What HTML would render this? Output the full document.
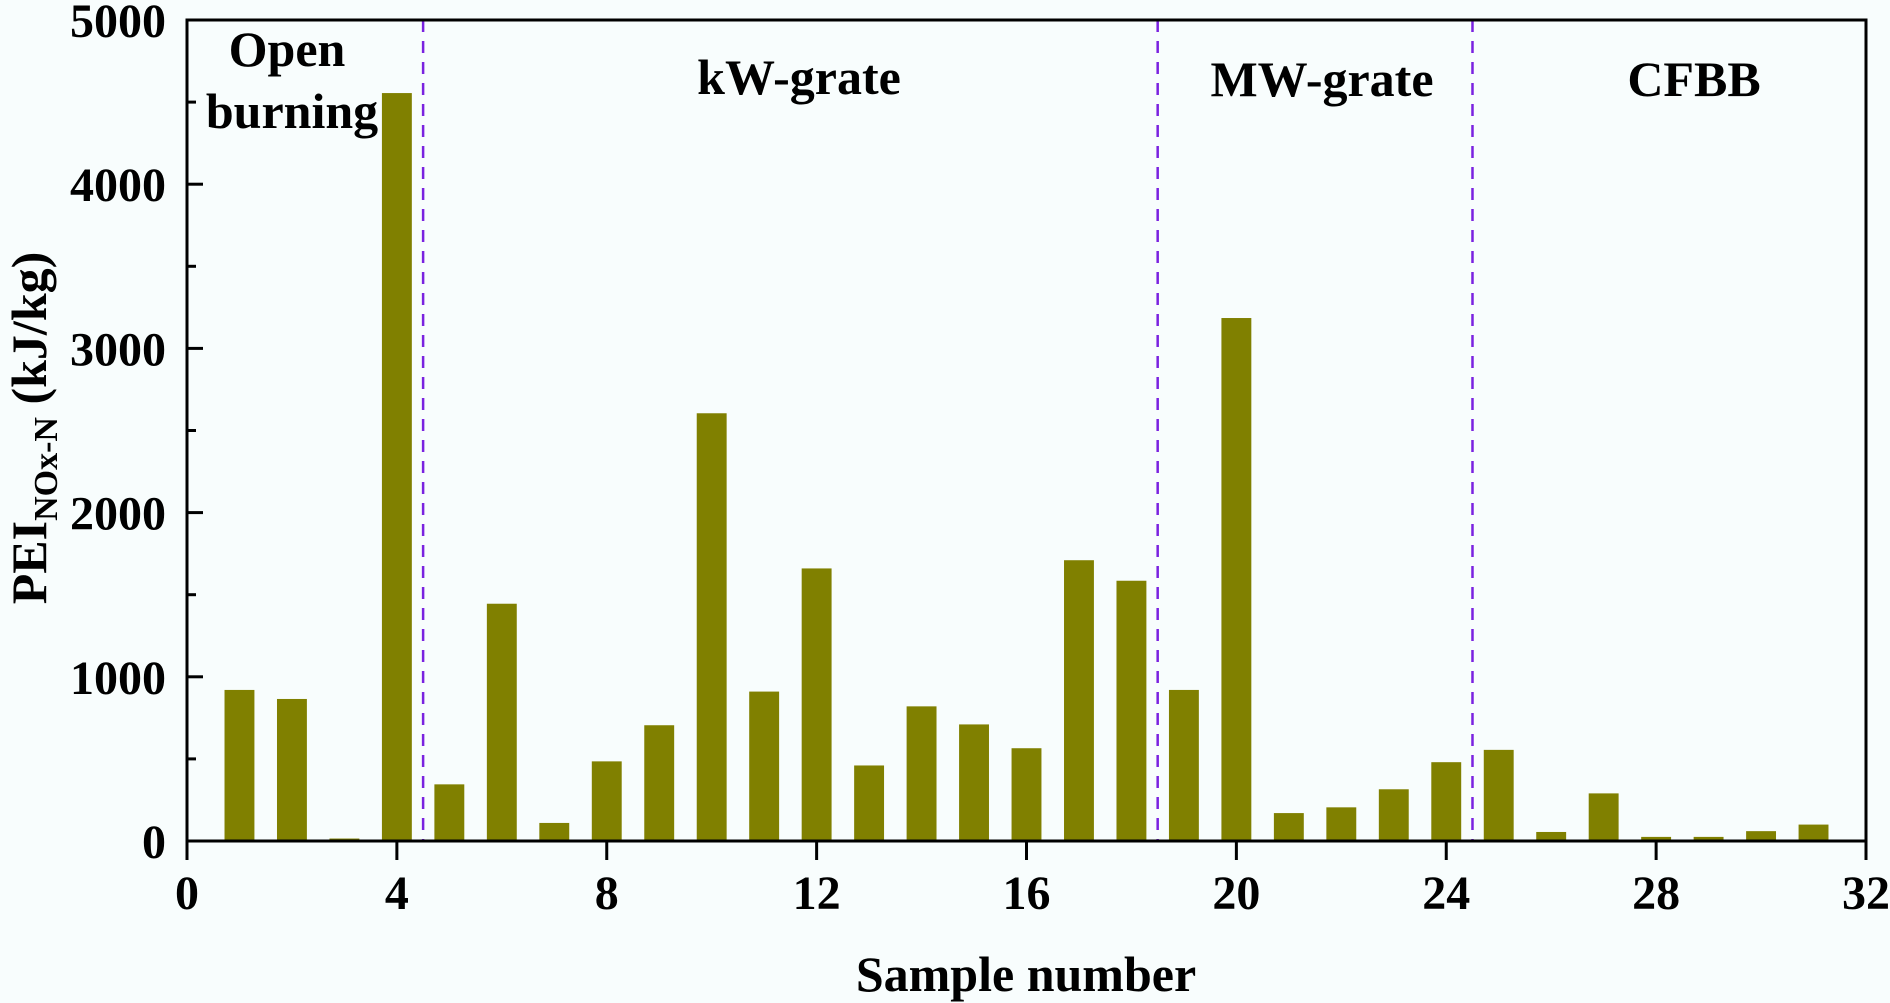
<!DOCTYPE html>
<html><head><meta charset="utf-8"><style>
html,body{margin:0;padding:0;background:#f8fdfd;}
svg{display:block;font-family:"Liberation Serif",serif;font-weight:bold;}
</style></head><body>
<svg id="chart" width="1890" height="1003" viewBox="0 0 1890 1003" xmlns="http://www.w3.org/2000/svg">
<rect width="1890" height="1003" fill="#f8fdfd"/>
<g id="bars"></g>
<g id="dividers"></g>
<g id="axes"></g>
<g id="labels" font-size="50" text-anchor="middle">
<text x="287" y="66">Open</text>
<text x="292" y="128">burning</text>
<text x="799" y="94">kW-grate</text>
<text x="1322" y="96">MW-grate</text>
<text x="1694" y="96">CFBB</text>
</g>
<text x="1026" y="991" font-size="50" text-anchor="middle">Sample number</text>
<text transform="translate(46,428) rotate(-90)" font-size="50" text-anchor="middle">PEI<tspan font-size="34" dy="11">NOx-N</tspan><tspan dy="-11"> (kJ/kg)</tspan></text>
</svg>
<script>
const samples = [1,2,3,4,5,6,7,8,9,10,11,12,13,14,15,16,17,18,19,20,21,22,23,24,25,26,27,28,29,30,31];
const values = [920,865,15,4555,345,1445,110,485,705,2605,910,1660,460,820,710,565,1710,1585,920,3185,170,205,315,480,555,55,290,25,25,60,100];
const xTicks = [0,4,8,12,16,20,24,28,32];
const yTicks = [0,1000,2000,3000,4000,5000];
const dividers = [4.5,18.5,24.5];

const L=187,R=1866,T=20,B=841;
const xs=v=>L+(v-0)/(32-0)*(R-L);
const ys=v=>B-(v/5000)*(B-T);
const NS="http://www.w3.org/2000/svg";
function mk(tag,attrs,parent){const e=document.createElementNS(NS,tag);for(const k in attrs)e.setAttribute(k,attrs[k]);parent.appendChild(e);return e;}
const bars=document.getElementById('bars'),axes=document.getElementById('axes'),divs=document.getElementById('dividers');
const bw=0.57*(R-L)/32;
samples.forEach((s,i)=>{
  const r=mk('rect',{x:xs(s)-bw/2,y:ys(values[i]),width:bw,height:B-ys(values[i]),fill:'#808000'},bars);
  
  
});
dividers.forEach(d=>{
  const l=mk('line',{x1:xs(d),x2:xs(d),y1:T,y2:B,stroke:'#7a22e0','stroke-width':2.5,'stroke-dasharray':'12,9'},divs);
  
  
});
const frame=mk('rect',{x:L,y:T,width:R-L,height:B-T,fill:'none',stroke:'#000','stroke-width':3},axes);


xTicks.forEach(t=>{
  const tk=mk('line',{x1:xs(t),x2:xs(t),y1:B,y2:B+19,stroke:'#000','stroke-width':3},axes);
  
  
  const tx=mk('text',{x:xs(t),y:909,'font-size':48,'text-anchor':'middle'},axes);
  tx.textContent=t;
  
  
});
yTicks.forEach(t=>{
  const tk=mk('line',{x1:L,x2:L+16,y1:ys(t),y2:ys(t),stroke:'#000','stroke-width':3},axes);
  
  
  const tx=mk('text',{x:166,y:ys(t)+17,'font-size':48,'text-anchor':'end'},axes);
  tx.textContent=t;
  
  
  if(t<5000){
    const m=mk('line',{x1:L,x2:L+9,y1:ys(t+500),y2:ys(t+500),stroke:'#000','stroke-width':3},axes);
    
    
  }
});
</script>
</body></html>
